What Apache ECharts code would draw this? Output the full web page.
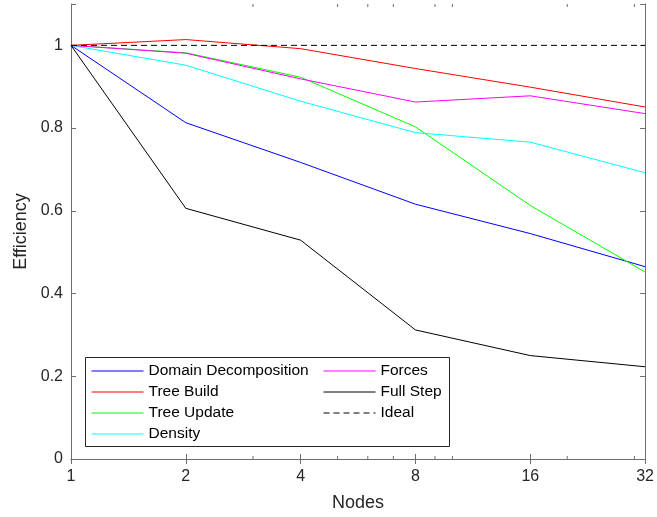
<!DOCTYPE html>
<html>
<head>
<meta charset="utf-8">
<script src="https://cdn.jsdelivr.net/npm/echarts@6/dist/echarts.min.js"></script>
<style>
html,body{margin:0;padding:0;background:#fff;}
#main{width:657px;height:517px;}
</style>
</head>
<body>
<div id="main"></div>
<script>
var nodes = [1, 2, 4, 8, 16, 32];
var domainDecomposition = [1, 0.813, 0.717, 0.616, 0.545, 0.465];
var treeBuild = [1, 1.014, 0.992, 0.944, 0.899, 0.851];
var treeUpdate = [1, 0.982, 0.923, 0.803, 0.613, 0.452];
var density = [1, 0.952, 0.865, 0.789, 0.766, 0.692];
var forces = [1, 0.981, 0.919, 0.863, 0.878, 0.835];
var fullStep = [1, 0.606, 0.529, 0.312, 0.250, 0.223];
var ideal = [1, 1, 1, 1, 1, 1];
var minorTickValues = [3, 5, 6, 7, 9, 10, 20, 30];
var yTicks = [0, 0.2, 0.4, 0.6, 0.8, 1];

var FONT = 'Liberation Sans, Arial, Helvetica, sans-serif';
var AXIS_COLOR = '#6e6e6e';
var TEXT_COLOR = '#262626';

function pairs(vals) { return nodes.map(function (n, i) { return [n, vals[i]]; }); }

function lineSeries(name, vals, color, dashed) {
  return {
    name: name, type: 'line', data: pairs(vals), symbol: 'none',
    lineStyle: { color: color, width: 1, type: dashed ? [6, 4] : 'solid' },
    itemStyle: { color: color },
    emphasis: { disabled: true }, animation: false
  };
}

var chart = echarts.init(document.getElementById('main'), null, { renderer: 'canvas' });

var legendCommon = {
  orient: 'vertical', padding: 0, itemWidth: 52, itemHeight: 14, itemGap: 5,
  itemStyle: { color: 'rgba(0,0,0,0)', borderWidth: 0, borderColor: 'rgba(0,0,0,0)' },
  lineStyle: { width: 1 },
  z: 20,
  textStyle: { fontFamily: FONT, fontSize: 15.5, color: '#000' },
  selectedMode: false
};

var option = {
  backgroundColor: '#fff',
  animation: false,
  grid: { left: 71, right: 10, top: 4, bottom: 57, show: false },
  xAxis: [{
    type: 'log', logBase: 2, min: 1, max: 32, position: 'bottom',
    name: 'Nodes', nameLocation: 'middle', nameGap: 35,
    nameTextStyle: { fontFamily: FONT, fontSize: 18, color: TEXT_COLOR },
    axisLine: { show: true, lineStyle: { color: AXIS_COLOR, width: 1 } },
    axisTick: { show: true, inside: true, length: 5, lineStyle: { color: AXIS_COLOR } },
    axisLabel: { fontFamily: FONT, fontSize: 16, color: TEXT_COLOR, margin: 10 },
    splitLine: { show: false }, minorTick: { show: false }
  }, {
    type: 'log', logBase: 2, min: 1, max: 32, position: 'top',
    axisLine: { show: true, lineStyle: { color: AXIS_COLOR, width: 1 } },
    axisTick: { show: true, inside: true, length: 5, lineStyle: { color: AXIS_COLOR } },
    axisLabel: { show: false }, splitLine: { show: false }
  }],
  yAxis: [{
    type: 'value', min: 0, max: 1.1, interval: 0.2, position: 'left',
    name: 'Efficiency', nameLocation: 'middle', nameGap: 39, nameRotate: 90,
    nameTextStyle: { fontFamily: FONT, fontSize: 18, color: TEXT_COLOR },
    axisLine: { show: true, lineStyle: { color: AXIS_COLOR, width: 1 } },
    axisTick: { show: true, inside: true, length: 5, lineStyle: { color: AXIS_COLOR } },
    axisLabel: { fontFamily: FONT, fontSize: 16, color: TEXT_COLOR, margin: 8,
      customValues: yTicks },
    splitLine: { show: false }
  }, {
    type: 'value', min: 0, max: 1.1, interval: 0.2, position: 'right',
    axisLine: { show: true, lineStyle: { color: AXIS_COLOR, width: 1 } },
    axisTick: { show: true, inside: true, length: 5, lineStyle: { color: AXIS_COLOR } },
    axisLabel: { show: false }, splitLine: { show: false }
  }],
  legend: [
    Object.assign({ left: 91, top: 363, data: ['Domain Decomposition', 'Tree Build', 'Tree Update', 'Density'] }, legendCommon),
    Object.assign({ left: 323, top: 363, data: ['Forces', 'Full Step', 'Ideal'] }, legendCommon)
  ],
  graphic: [{
    type: 'rect', left: 85, top: 357, z: 10, silent: true,
    shape: { width: 364, height: 89 },
    style: { fill: '#fff', stroke: '#262626', lineWidth: 1 }
  }],
  series: [
    lineSeries('Domain Decomposition', domainDecomposition, '#0000ff'),
    lineSeries('Tree Build', treeBuild, '#ff0000'),
    lineSeries('Tree Update', treeUpdate, '#00ff00'),
    lineSeries('Density', density, '#00ffff'),
    lineSeries('Forces', forces, '#ff00ff'),
    lineSeries('Full Step', fullStep, '#000000'),
    lineSeries('Ideal', ideal, '#000000', true),
    {
      type: 'custom', name: 'minorTicks', silent: true, clip: false, z: 3,
      data: minorTickValues,
      encode: { x: 0 },
      renderItem: function (params, api) {
        var v = api.value(0);
        var pb = api.coord([v, 0]);
        var pt = api.coord([v, 1.1]);
        var style = { stroke: AXIS_COLOR, lineWidth: 1 };
        return { type: 'group', children: [
          { type: 'line', shape: { x1: pb[0], y1: pb[1], x2: pb[0], y2: pb[1] - 3 }, style: style },
          { type: 'line', shape: { x1: pt[0], y1: pt[1], x2: pt[0], y2: pt[1] + 3 }, style: style }
        ] };
      }
    }
  ]
};
chart.setOption(option);
</script>
</body>
</html>
